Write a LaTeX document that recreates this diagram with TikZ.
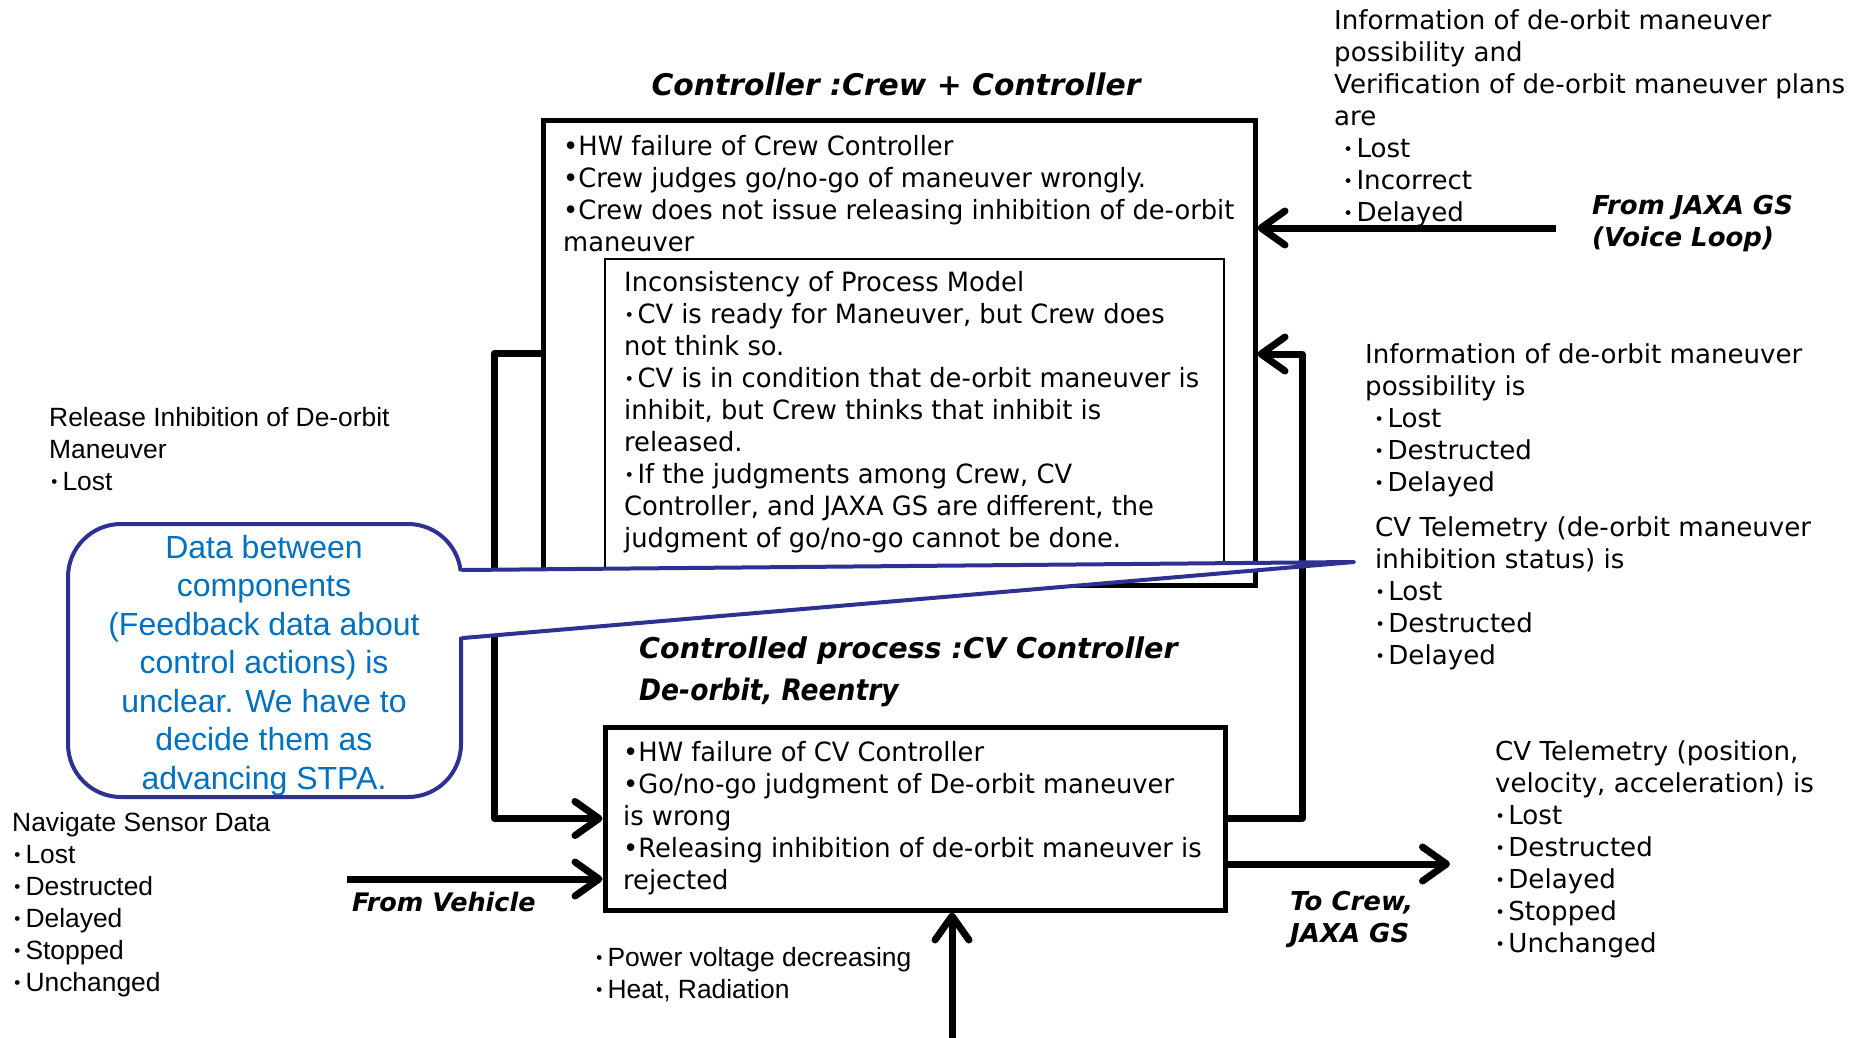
\documentclass[tikz,border=0pt]{standalone}
\usepackage{fontspec}
\setmainfont{DejaVu Sans}
\newfontfamily\tah[FakeStretch=1.08]{DejaVu Sans Condensed}
\newfontfamily\tahhead{DejaVu Sans Condensed}
\newfontfamily\ver{DejaVu Sans}
\newfontfamily\ari{Liberation Sans}
\newfontfamily\cjk[RawFeature=+palt, Scale=0.85]{Noto Sans CJK JP}
\newcommand\jdot{{\cjk ・}\kern0.08em}
\usetikzlibrary{arrows.meta}
\definecolor{noteline}{RGB}{46,49,146}
\definecolor{notetext}{RGB}{0,112,192}

\begin{document}
\begin{tikzpicture}[x=1pt,y=-1pt,
  blockbox/.style={draw, line width=5pt, inner sep=0pt},
  modelbox/.style={draw, line width=1.8pt, inner sep=0pt},
  txt/.style={anchor=north west, inner sep=0pt, align=left},
  boxfont/.style={font=\tah\fontsize{26.5}{32}\selectfont},
  lblfont/.style={font=\ver\fontsize{26.1}{32}\selectfont},
  arifont/.style={font=\ari\fontsize{26.4}{32}\selectfont},
  tagfont/.style={font=\ver\bfseries\itshape\fontsize{26}{32}\selectfont},
  flow/.style={line width=7pt, line join=round,
    -{Straight Barb[length=24pt,width=34pt,round]}},
  notebox/.style={draw=noteline, line width=4pt, fill=white,
    rounded corners=53pt, inner sep=0pt},
  notetail/.style={draw=noteline, line width=4pt, line join=round, line cap=round}]

\useasboundingbox (0,0) rectangle (1863,1038);

% ---- controller block ----
\node[anchor=center, font=\ver\bfseries\itshape\fontsize{29.8}{36}\selectfont]
  (crewtitle) at (896,84) {Controller :Crew + Controller};
\node[blockbox, minimum width=712pt, minimum height=464pt] (crew) at (899,353) {};
\node[txt, boxfont] (crewtext) at (563,135) {%
  •HW failure of Crew Controller\\
  •Crew judges go/no-go of maneuver wrongly.\\
  •Crew does not issue releasing inhibition of de-orbit\\
  maneuver};
\node[modelbox, minimum width=619pt, minimum height=310pt] (model) at (914.5,414) {};
\node[txt, boxfont] (modeltext) at (624,271) {%
  Inconsistency of Process Model\\
  \jdot CV is ready for Maneuver, but Crew does\\
  not think so.\\
  \jdot CV is in condition that de-orbit maneuver is\\
  inhibit, but Crew thinks that inhibit is\\
  released.\\
  \jdot If the judgments among Crew, CV\\
  Controller, and JAXA GS are different, the\\
  judgment of go/no-go cannot be done.};

% ---- controlled process block ----
\node[anchor=north west, inner sep=0pt, font=\ver\bfseries\itshape\fontsize{28.6}{41}\selectfont]
  (cvtitle) at (639,637) {Controlled process :CV Controller};
\node[anchor=north west, inner sep=0pt, font=\tahhead\bfseries\itshape\fontsize{29.5}{41}\selectfont]
  (cvsub) at (639,678) {De-orbit, Reentry};
\node[blockbox, minimum width=620pt, minimum height=183pt] (cv) at (915,818.5) {};
\node[txt, boxfont] (cvtext) at (623,741) {%
  •HW failure of CV Controller\\
  •Go/no-go judgment of De-orbit maneuver\\
  is wrong\\
  •Releasing inhibition of de-orbit maneuver is\\
  rejected};

% ---- labels ----
\node[txt, lblfont] (gsinfo) at (1334,9) {%
  Information of de-orbit maneuver\\
  possibility and\\
  Verification of de-orbit maneuver plans\\
  are\\
  \hspace*{0.35em}\jdot Lost\\
  \hspace*{0.35em}\jdot Incorrect\\
  \hspace*{0.35em}\jdot Delayed};
\node[txt, tagfont] (gstag) at (1592,195) {From JAXA GS\\(Voice Loop)};
\node[txt, lblfont] (fbinfo) at (1365,343) {%
  Information of de-orbit maneuver\\
  possibility is\\
  \hspace*{0.35em}\jdot Lost\\
  \hspace*{0.35em}\jdot Destructed\\
  \hspace*{0.35em}\jdot Delayed};
\node[txt, lblfont] (fbtlm) at (1375,516) {%
  CV Telemetry (de-orbit maneuver\\
  inhibition status) is\\
  \jdot Lost\\
  \jdot Destructed\\
  \jdot Delayed};
\node[txt, lblfont] (outtlm) at (1495,740) {%
  CV Telemetry (position,\\
  velocity, acceleration) is\\
  \jdot Lost\\
  \jdot Destructed\\
  \jdot Delayed\\
  \jdot Stopped\\
  \jdot Unchanged};
\node[txt, tagfont] (outtag) at (1290,891) {To Crew,\\JAXA GS};
\node[txt, arifont] (cmd) at (49,407) {%
  Release Inhibition of De-orbit\\
  Maneuver\\
  \jdot Lost};
\node[txt, arifont] (sensor) at (12,812) {%
  Navigate Sensor Data\\
  \jdot Lost\\
  \jdot Destructed\\
  \jdot Delayed\\
  \jdot Stopped\\
  \jdot Unchanged};
\node[anchor=west, inner sep=0pt, font=\ver\bfseries\itshape\fontsize{25.5}{32}\selectfont]
  (vehtag) at (352,902) {From Vehicle};
\node[txt, arifont] (envtext) at (594,947) {%
  \jdot Power voltage decreasing\\
  \jdot Heat, Radiation};

% ---- connectors ----
\coordinate (gs) at (1556,228);
\coordinate (fbx) at (1302,0);
\coordinate (fby) at (0,354);
\coordinate (veh) at (347,879);
\coordinate (out) at (1450,864);
\coordinate (env) at (952,1050);
\draw[flow] (gs) -- (gs -| crew.east);
\draw[flow] (cv.east) -- (cv.east -| fbx) -- (fbx |- fby) -- (crew.east |- fby);
\draw[flow] (crew.west) -- ++(-46,0) |- (cv.west);
\draw[flow] (veh) -- (veh -| cv.west);
\draw[flow] (cv.east |- out) -- (out);
\draw[flow] (env) -- (env |- cv.south);

% ---- note callout ----
\node[notebox, minimum width=393pt, minimum height=273pt] (note) at (264.5,660.5) {};
\coordinate (tip) at (1354,562);
\fill[white] ([shift={(-6pt,89pt)}]note.east) -- (tip) -- ([shift={(-6pt,23.5pt)}]note.east) -- cycle;
\draw[notetail] ([yshift=90.5pt]note.east) -- (tip) -- ([yshift=22.5pt]note.east);
\node[anchor=north, inner sep=0pt, align=center, text=notetext,
      font=\ari\fontsize{32}{38.5}\selectfont] (notetext) at (264,535) {%
  Data between\\
  components\\
  (Feedback data about\\
  control actions) is\\
  unclear. We have to\\
  decide them as\\
  advancing STPA.};
\end{tikzpicture}
\end{document}
